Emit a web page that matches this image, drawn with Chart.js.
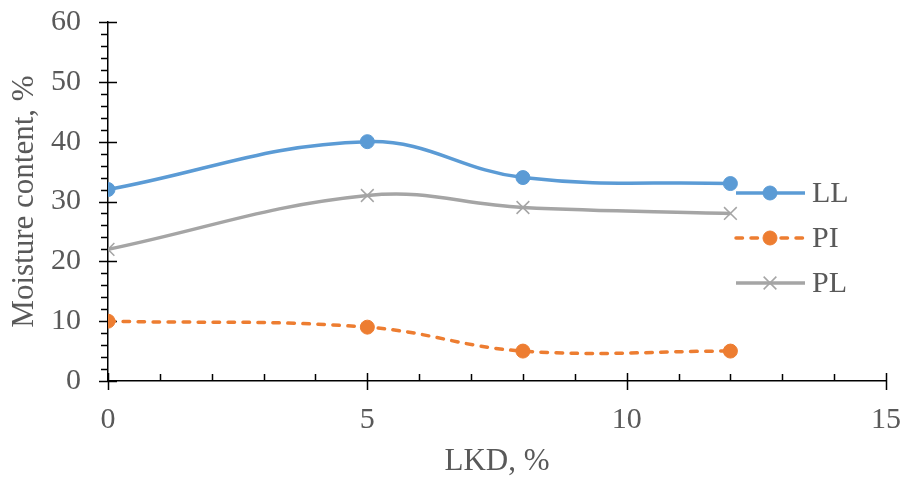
<!DOCTYPE html>
<html>
<head>
<meta charset="utf-8">
<script src="https://cdn.jsdelivr.net/npm/chart.js@4/dist/chart.umd.min.js"></script>
<style>
  html, body { margin: 0; padding: 0; background: #fff; }
  #wrap { width: 907px; height: 483px; }
</style>
</head>
<body>
<div id="wrap"><canvas id="chart"></canvas></div>
<script>
// LKD content (%) vs. moisture content (%)
const lkd = [0, 5, 8, 12];
const liquidLimit = [32, 40, 34, 33];
const plasticityIndex = [10, 9, 5, 5];
const plasticLimit = [22, 31, 29, 28];
const xTicks = [0, 5, 10, 15];
const yTicks = [0, 10, 20, 30, 40, 50, 60];

const BLUE = '#5B9BD5';
const ORANGE = '#ED7D31';
const GREY = '#A5A5A5';
const TEXT = '#595959';
const SERIF = '"Liberation Serif", "Times New Roman", serif';

const pts = ys => lkd.map((x, i) => ({ x: x, y: ys[i] }));

// keep the plot box fixed: no extra room for overhanging tick labels
const noOverhang = s => {
  s.paddingTop = 0; s.paddingBottom = 0;
  s.paddingLeft = 0; s.paddingRight = 0;
};

// axis tick marks: majors cross the axis, minors sit on one side
const axisTicks = {
  id: 'axisTicks',
  beforeDatasetsDraw(chart) {
    const { ctx, scales: { x, y } } = chart;
    const x0 = x.getPixelForValue(0);
    const y0 = y.getPixelForValue(0);
    ctx.save();
    ctx.strokeStyle = '#000';
    ctx.lineWidth = 1.5;
    ctx.beginPath();
    for (let v = 0; v <= 60; v += 2) {
      const py = Math.round(y.getPixelForValue(v)) + 0.5;
      if (v % 10 === 0) { ctx.moveTo(x0 - 9, py); ctx.lineTo(x0 + 9, py); }
      else { ctx.moveTo(x0 - 7, py); ctx.lineTo(x0, py); }
    }
    for (let v = 0; v <= 15; v += 1) {
      const px = Math.round(x.getPixelForValue(v)) + 0.5;
      if (v % 5 === 0) { ctx.moveTo(px, y0 - 8); ctx.lineTo(px, y0 + 9); }
      else { ctx.moveTo(px, y0 - 7); ctx.lineTo(px, y0); }
    }
    ctx.stroke();
    ctx.restore();
  }
};

// legend drawn over the right side of the plot
const sideLegend = {
  id: 'sideLegend',
  afterDraw(chart) {
    const ctx = chart.ctx;
    const rows = [193, 238, 283];
    ctx.save();
    chart.data.datasets.forEach((ds, i) => {
      const y = rows[i];
      ctx.strokeStyle = ds.borderColor;
      ctx.lineWidth = ds.borderWidth;
      ctx.lineCap = ds.borderCapStyle || 'butt';
      ctx.setLineDash(ds.borderDash || []);
      ctx.beginPath();
      ctx.moveTo(736, y);
      ctx.lineTo(805, y);
      ctx.stroke();
      ctx.setLineDash([]);
      ctx.lineCap = 'butt';
      ctx.fillStyle = ds.backgroundColor;
      ctx.strokeStyle = ds.borderColor;
      ctx.lineWidth = ds.pointBorderWidth;
      Chart.helpers.drawPoint(ctx, {
        pointStyle: ds.pointStyle,
        radius: ds.pointRadius,
        borderWidth: ds.pointBorderWidth
      }, 770, y);
      ctx.fillStyle = TEXT;
      ctx.font = '30px ' + SERIF;
      ctx.textBaseline = 'middle';
      ctx.textAlign = 'left';
      ctx.fillText(ds.label, 812, y + 1);
    });
    ctx.restore();
  }
};

new Chart(document.getElementById('chart'), {
  type: 'scatter',
  data: {
    datasets: [
      {
        label: 'LL',
        data: pts(liquidLimit),
        showLine: true,
        borderColor: BLUE,
        backgroundColor: BLUE,
        borderWidth: 3.5,
        tension: 0.4,
        pointStyle: 'circle',
        pointRadius: 7,
        pointBorderWidth: 1
      },
      {
        label: 'PI',
        data: pts(plasticityIndex),
        showLine: true,
        borderColor: ORANGE,
        backgroundColor: ORANGE,
        borderWidth: 3.5,
        borderDash: [6.5, 8.5],
        borderCapStyle: 'round',
        tension: 0.4,
        pointStyle: 'circle',
        pointRadius: 7,
        pointBorderWidth: 1
      },
      {
        label: 'PL',
        data: pts(plasticLimit),
        showLine: true,
        borderColor: GREY,
        backgroundColor: GREY,
        borderWidth: 3.5,
        tension: 0.4,
        pointStyle: 'crossRot',
        pointRadius: 9,
        pointBorderWidth: 1.5
      }
    ]
  },
  options: {
    responsive: true,
    maintainAspectRatio: false,
    animation: false,
    layout: { padding: { top: 22, right: 21, left: 0, bottom: 0 } },
    plugins: {
      legend: { display: false },
      tooltip: { enabled: false }
    },
    scales: {
      x: {
        type: 'linear',
        min: 0,
        max: 15,
        afterBuildTicks: s => { s.ticks = xTicks.map(v => ({ value: v })); },
        afterFit: s => { s.height = 102; noOverhang(s); },
        grid: { display: false, drawTicks: false },
        border: { display: true, color: '#000', width: 1.5 },
        ticks: { color: TEXT, font: { family: SERIF, size: 30 }, padding: 21, maxRotation: 0 },
        title: {
          display: true,
          text: 'LKD, %',
          color: TEXT,
          font: { family: SERIF, size: 31 },
          padding: { top: 0, bottom: 3 }
        }
      },
      y: {
        min: 0,
        max: 60,
        afterBuildTicks: s => { s.ticks = yTicks.map(v => ({ value: v })); },
        afterFit: s => { s.width = 108; noOverhang(s); },
        grid: { display: false, drawTicks: false },
        border: { display: true, color: '#000', width: 1.5 },
        ticks: { color: TEXT, font: { family: SERIF, size: 30 }, padding: 27 },
        title: {
          display: true,
          text: 'Moisture content, %',
          color: TEXT,
          font: { family: SERIF, size: 31 },
          padding: { top: 6, bottom: 0 }
        }
      }
    }
  },
  plugins: [axisTicks, sideLegend]
});
</script>
</body>
</html>
